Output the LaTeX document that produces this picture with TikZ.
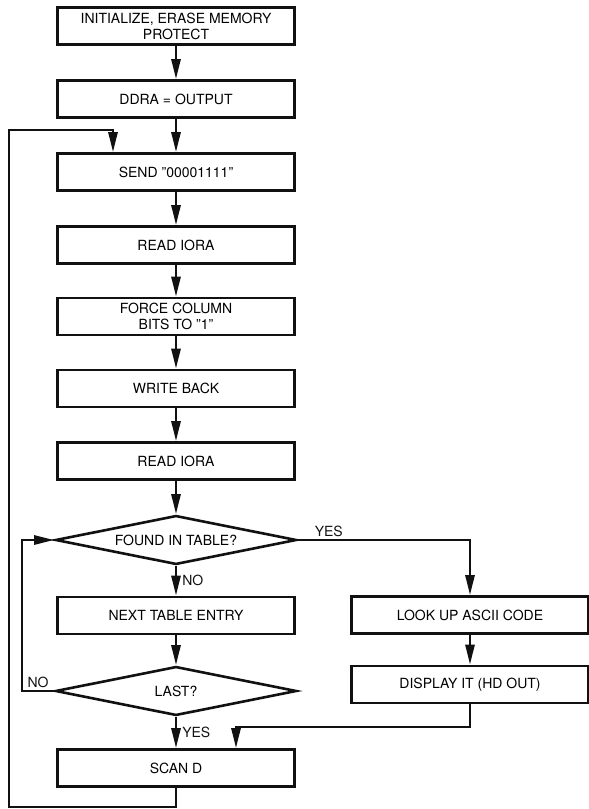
\documentclass[tikz,border=0pt]{standalone}
\usepackage{fontspec}
\setsansfont{TeX Gyre Heros}
\usepackage{tikz}
\usetikzlibrary{arrows.meta,shapes.geometric,calc}
\usepackage{xcolor}
\definecolor{Ink}{HTML}{111111}
\newcommand{\FlowStep}[4]{%
  \node[stepbox] (#1) at (#2,#3) {#4};%
}

\begin{document}
\begin{tikzpicture}[x=1pt,y=-1pt,
  stepbox/.style={draw=Ink,line width=2.6pt,minimum width=237pt,minimum height=37pt,
    inner sep=2pt,align=center,font=\sffamily\fontsize{14}{16}\selectfont},
  testbox/.style={diamond,draw=Ink,line width=2.6pt,minimum width=241pt,minimum height=49pt,
    aspect=5,inner sep=0pt,font=\sffamily\fontsize{14}{16}\selectfont},
  flow/.style={draw=Ink,line width=2.6pt,-{Triangle[length=20pt,width=9pt]}},
  tag/.style={font=\sffamily\fontsize{14}{16}\selectfont,text=Ink,inner sep=2pt}]
\useasboundingbox (0,0) rectangle (589,809);
% main column
\FlowStep{init}{176}{26}{INITIALIZE, ERASE MEMORY\\PROTECT}
\FlowStep{ddra}{176}{99}{DDRA = OUTPUT}
\FlowStep{send}{176}{172}{SEND ''00001111''}
\FlowStep{reada}{176}{245}{READ IORA}
\FlowStep{force}{176}{316.5}{FORCE COLUMN\\BITS TO ''1''}
\FlowStep{write}{176}{388.5}{WRITE BACK}
\FlowStep{readb}{176}{461}{READ IORA}
\node[testbox] (found) at (176,540) {FOUND IN TABLE?};
\FlowStep{next}{176}{615.5}{NEXT TABLE ENTRY}
\node[testbox] (last) at (176,691) {LAST?};
\FlowStep{scan}{176}{768}{SCAN D}
% right column
\FlowStep{lookup}{470}{615}{LOOK UP ASCII CODE}
\FlowStep{show}{470}{684.5}{DISPLAY IT (HD OUT)}
% turning points
\coordinate (merge) at (236,727);
\coordinate (noturn) at (22,691);
\coordinate (backbot) at (9,807);
\coordinate (backtop) at (9,130);
% connectors
\draw[flow] (init) -- (ddra);
\draw[flow] (ddra) -- (send);
\draw[flow] (send) -- (reada);
\draw[flow] (reada) -- (force);
\draw[flow] (force) -- (write);
\draw[flow] (write) -- (readb);
\draw[flow] (readb) -- (found);
\draw[flow] (found) -- node[tag,right,xshift=3pt] {NO} (next);
\draw[flow] (found.east) -| node[tag,above,pos=0.09] {YES} (lookup.north);
\draw[flow] (lookup) -- (show);
\draw[flow] (show.south) |- (merge) -- (merge |- scan.north);
\draw[flow] (next) -- (last);
\draw[flow] (last) -- node[tag,right,xshift=3pt] {YES} (scan);
\draw[flow] (last.west) -- node[tag,above] {NO} (noturn) |- (found.west);
\draw[flow] (scan.south) |- (backbot) -- (backtop) -| ([xshift=-63pt]send.north);
\end{tikzpicture}
\end{document}
